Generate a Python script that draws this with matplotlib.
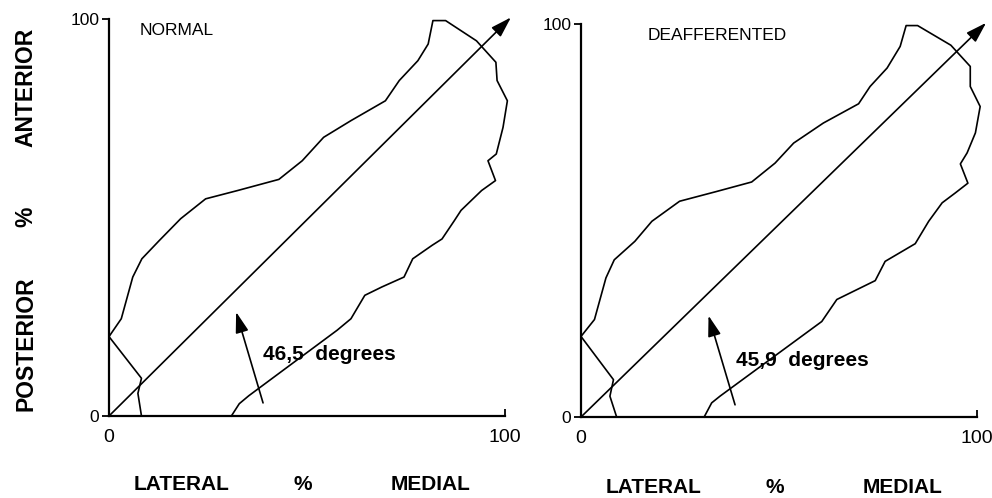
import matplotlib.pyplot as plt

plt.rcParams['font.family'] = ['Liberation Sans', 'DejaVu Sans']

# contour outlines (% lateral-medial, % posterior-anterior)
normal_x = [8.2, 7.3, 8.2, 0.0, 3.1, 6.0, 8.3, 12.7, 18.1, 24.4, 32.5, 42.9, 48.8,
            54.2, 61.1, 69.8, 73.3, 78.0, 80.6, 81.8, 85.0, 92.8, 97.7, 98.0, 100.6,
            99.5, 97.8, 95.7, 97.6, 94.1, 91.5, 88.9, 87.2, 84.1, 81.6, 76.7, 74.5,
            68.9, 64.6, 61.1, 57.6, 35.3, 32.9, 30.9]
normal_y = [0.0, 5.7, 9.5, 20.0, 24.5, 35.0, 39.6, 44.2, 49.7, 54.7, 56.8, 59.6, 64.3,
            70.2, 74.4, 79.4, 84.5, 89.5, 93.7, 99.6, 99.6, 94.5, 89.1, 84.5, 79.4,
            72.7, 66.0, 64.3, 59.3, 56.8, 54.3, 51.8, 49.2, 44.6, 43.0, 39.6, 35.0,
            32.5, 30.4, 24.5, 21.6, 5.1, 3.1, 0.0]

deaff_x = [9.0, 7.3, 8.2, 0.0, 3.4, 6.3, 8.4, 13.6, 17.9, 24.9, 34.3, 43.1, 49.0,
           53.7, 61.2, 70.1, 73.0, 77.3, 80.6, 82.1, 85.0, 93.4, 98.3, 98.3, 100.8,
           99.6, 97.5, 95.8, 97.7, 94.5, 91.2, 87.8, 84.4, 76.8, 74.3, 64.6, 60.8,
           35.1, 33.0, 31.1]
deaff_y = [0.0, 5.3, 9.5, 20.5, 24.8, 35.4, 40.0, 44.7, 49.8, 54.9, 57.4, 59.8, 64.6,
           69.7, 74.8, 79.7, 84.1, 88.8, 94.3, 99.6, 99.6, 94.6, 89.2, 84.1, 79.0,
           72.3, 67.2, 64.4, 59.5, 57.0, 54.5, 49.8, 44.1, 39.6, 34.7, 29.9, 24.3,
           5.3, 3.6, 0.0]

# principal axis arrow (tip) and small angle arrow (tail, tip)
normal_axis_tip = (101.5, 100.4)
deaff_axis_tip = (102.3, 100.3)
normal_angle_arrow = [(38.9, 3.3), (32.1, 26.2)]
deaff_angle_arrow = [(38.9, 3.1), (32.2, 25.8)]

panels = [
    dict(rect=[109/992, 82/498, 396/992, 397/498], x=normal_x, y=normal_y,
         tip=normal_axis_tip, arr=normal_angle_arrow, title='NORMAL', title_x=7.8,
         angle='46,5  degrees', angle_xy=(38.9, 15.4)),
    dict(rect=[581/992, 81/498, 396/992, 393/498], x=deaff_x, y=deaff_y,
         tip=deaff_axis_tip, arr=deaff_angle_arrow, title='DEAFFERENTED', title_x=16.9,
         angle='45,9  degrees', angle_xy=(39.1, 14.5)),
]

fig = plt.figure(figsize=(9.92, 4.98), dpi=100)

for p in panels:
    ax = fig.add_axes(p['rect'])
    ax.set_xlim(0, 100)
    ax.set_ylim(0, 100)
    for s in ['top', 'right']:
        ax.spines[s].set_visible(False)
    for s in ['left', 'bottom']:
        ax.spines[s].set_linewidth(1.6)
    ax.set_xticks([0, 100])
    ax.set_xticklabels(['0', '100'])
    ax.set_yticks([0, 100])
    ax.set_yticklabels(['0', '100'])
    ax.tick_params(axis='x', direction='in', length=5, width=1.3, labelsize=14, pad=9)
    ax.tick_params(axis='y', direction='out', length=5, width=1.3, labelsize=12.5, pad=2)

    ax.plot(p['x'], p['y'], color='black', lw=1.2, clip_on=False)
    ax.annotate('', xy=p['tip'], xytext=(0, 0),
                arrowprops=dict(arrowstyle='-|>,head_length=0.7,head_width=0.22',
                                color='black', lw=1.2, mutation_scale=18,
                                shrinkA=0, shrinkB=0),
                annotation_clip=False)
    ax.annotate('', xy=p['arr'][1], xytext=p['arr'][0],
                arrowprops=dict(arrowstyle='-|>,head_length=0.7,head_width=0.22',
                                color='black', lw=1.2, mutation_scale=18,
                                shrinkA=0, shrinkB=0))
    ax.text(p['title_x'], 97, p['title'], fontsize=12.5, ha='left', va='center')
    ax.text(p['angle_xy'][0], p['angle_xy'][1], p['angle'], fontsize=15,
            fontweight='bold', ha='left', va='center')

# shared axis titles
fig.text(26/992, 1 - 87/498, 'ANTERIOR', rotation=90, fontsize=16.5,
         fontweight='bold', ha='center', va='center')
fig.text(26/992, 1 - 217/498, '%', rotation=90, fontsize=16.5,
         fontweight='bold', ha='center', va='center')
fig.text(26/992, 1 - 344/498, 'POSTERIOR', rotation=90, fontsize=16.5,
         fontweight='bold', ha='center', va='center')
lab = dict(fontsize=15, fontweight='bold', ha='center', va='center')
for x0, yy in [(109, 484), (581, 487)]:
    fig.text((x0 + 73)/992, 1 - yy/498, 'LATERAL', **lab)
    fig.text((x0 + 194)/992, 1 - yy/498, '%', **lab)
    fig.text((x0 + 322)/992, 1 - yy/498, 'MEDIAL', **lab)

fig.savefig('out.png', dpi=100)
